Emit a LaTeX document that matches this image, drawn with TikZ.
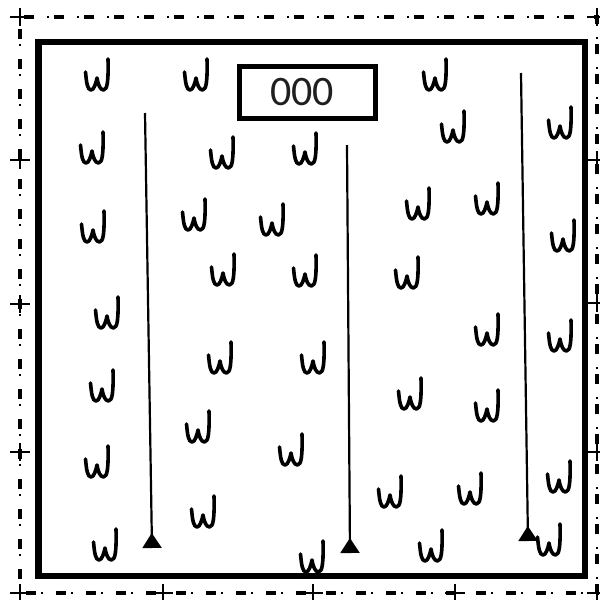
\documentclass[tikz,border=0pt]{standalone}
\usepackage{fontspec}
\newfontfamily\signfont{Carlito}
\usetikzlibrary{arrows.meta}
\tikzset{
  grass/.pic={
    \draw[line width=3.6pt, line cap=round, line join=round]
      (-11.5,-3) .. controls (-10.5,8) and (-9.5,15) .. (-6,15)
      .. controls (-3,15) and (-1,8) .. (0,3)
      .. controls (1,9) and (3,15) .. (6.5,15)
      .. controls (10.5,15) and (11.5,5) .. (11,-16);
  },
  crossmark/.pic={
    \draw[line width=1.5pt] (-10,0) -- (10,0) (0,-9) -- (0,9);
  },
  flowline/.style={line width=2.2pt, -{Triangle[reversed, width=19pt, length=15pt]}},
  signbox/.style={draw, line width=5pt, minimum width=136pt, minimum height=52pt, inner sep=0pt,
    font=\signfont\fontsize{42}{42}\selectfont, text=black!88},
}
\begin{document}
\begin{tikzpicture}[x=1pt, y=-1pt]
\useasboundingbox (0,0) rectangle (600,600);
\fill[white] (0,0) rectangle (600,600);
% outer dash-dot boundary
\draw[line width=4.5pt, dash pattern=on 10pt off 20pt, dash phase=-12pt] (20,17) rectangle (597,593);
\draw[line width=2pt, dash pattern=on 2pt off 28pt, dash phase=-27pt] (20,17) rectangle (597,593);
\foreach \p in {(20,17),(597,17),(20,160),(20,304),(20,452),(20,593),
                (597,160),(597,303),(597,452),(597,593),
                (163,593),(313,593),(455,593)}
  \pic at \p {crossmark};
% inner boundary
\draw[line width=6.5pt] (38.5,42) rectangle (585,576);
% sign
\node[signbox] (sign) at (307,92) {\hspace*{-10pt}000};
% flow lines
\coordinate (a1) at (145,113); \coordinate (b1) at (152,548);
\coordinate (a2) at (347,145); \coordinate (b2) at (350,553);
\coordinate (a3) at (521,73);  \coordinate (b3) at (528,541);
\draw[flowline] (a1) -- (b1);
\draw[flowline] (a2) -- (b2);
\draw[flowline] (a3) -- (b3);
% grass marks
\foreach \p in {(97,75),(196,75),(435,75),(92,148),(222,153),(305,149),(453,127),(560,123),
  (93,227),(194,215),(272,220),(418,204),(487,199),(563,236),
  (223,270),(305,271),(407,273),
  (107,313),(487,330),(560,336),
  (102,386),(220,358),(313,358),(410,394),(487,406),
  (198,427),(291,450),(97,462),
  (390,492),(470,489),(559,477),
  (203,512),(105,545),(312,557),(431,546),(549,540)}
  \pic at \p {grass};
\end{tikzpicture}
\end{document}
